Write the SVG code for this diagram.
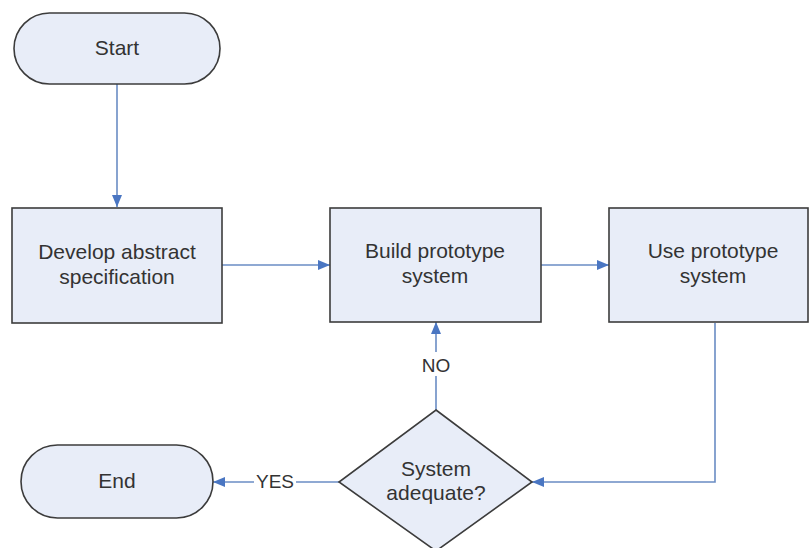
<svg xmlns="http://www.w3.org/2000/svg" width="809" height="548" viewBox="0 0 809 548">
  <defs>
    <marker id="arrow" viewBox="0 0 12 10" refX="12" refY="5" markerWidth="12" markerHeight="10" markerUnits="userSpaceOnUse" orient="auto">
      <path d="M0,0 L12,5 L0,10 Z" fill="#4a76c2"/>
    </marker>
  </defs>
  <style>
    .shape { fill: #e8edf8; stroke: #3c3c3c; stroke-width: 1.6; }
    .label { font-family: "Liberation Sans", Arial, sans-serif; font-size: 21px; fill: #333333; text-anchor: middle; }
    .edge { fill: none; stroke: #6a8cc4; stroke-width: 1.6; }
    .edge-label { font-family: "Liberation Sans", Arial, sans-serif; font-size: 19px; fill: #333333; text-anchor: middle; }
  </style>
  <rect width="809" height="548" fill="#ffffff"/>

  <!-- connectors -->
  <g id="connectors">
    <line class="edge" x1="117" y1="84" x2="117" y2="207" marker-end="url(#arrow)"/>
    <line class="edge" x1="222" y1="265" x2="330" y2="265" marker-end="url(#arrow)"/>
    <line class="edge" x1="541" y1="265" x2="609" y2="265" marker-end="url(#arrow)"/>
    <polyline class="edge" points="715,323 715,482 532,482" marker-end="url(#arrow)"/>
    <line class="edge" x1="436" y1="410" x2="436" y2="322" marker-end="url(#arrow)"/>
    <line class="edge" x1="339" y1="482" x2="213" y2="482" marker-end="url(#arrow)"/>
    <rect x="418" y="352" width="36" height="24" fill="#ffffff"/>
    <text class="edge-label" x="436" y="372">NO</text>
    <rect x="254" y="470" width="42" height="24" fill="#ffffff"/>
    <text class="edge-label" x="275" y="488">YES</text>
  </g>

  <g id="start">
    <rect class="shape" x="14" y="13" width="206" height="71" rx="35.5" ry="35.5"/>
    <text class="label" x="117" y="55">Start</text>
  </g>

  <g id="develop-spec">
    <rect class="shape" x="12" y="208" width="210" height="115"/>
    <text class="label" x="117" y="259">Develop abstract</text>
    <text class="label" x="117" y="284">specification</text>
  </g>

  <g id="build-prototype">
    <rect class="shape" x="330" y="208" width="211" height="114"/>
    <text class="label" x="435" y="258">Build prototype</text>
    <text class="label" x="435" y="283">system</text>
  </g>

  <g id="use-prototype">
    <rect class="shape" x="609" y="208" width="199" height="114"/>
    <text class="label" x="713" y="258">Use prototype</text>
    <text class="label" x="713" y="283">system</text>
  </g>

  <g id="decision">
    <polygon class="shape" points="436,410 532,482 436,551 339,482"/>
    <text class="label" x="436" y="476">System</text>
    <text class="label" x="436" y="500">adequate?</text>
  </g>

  <g id="end">
    <rect class="shape" x="21" y="445" width="192" height="73" rx="36.5" ry="36.5"/>
    <text class="label" x="117" y="488">End</text>
  </g>
</svg>
